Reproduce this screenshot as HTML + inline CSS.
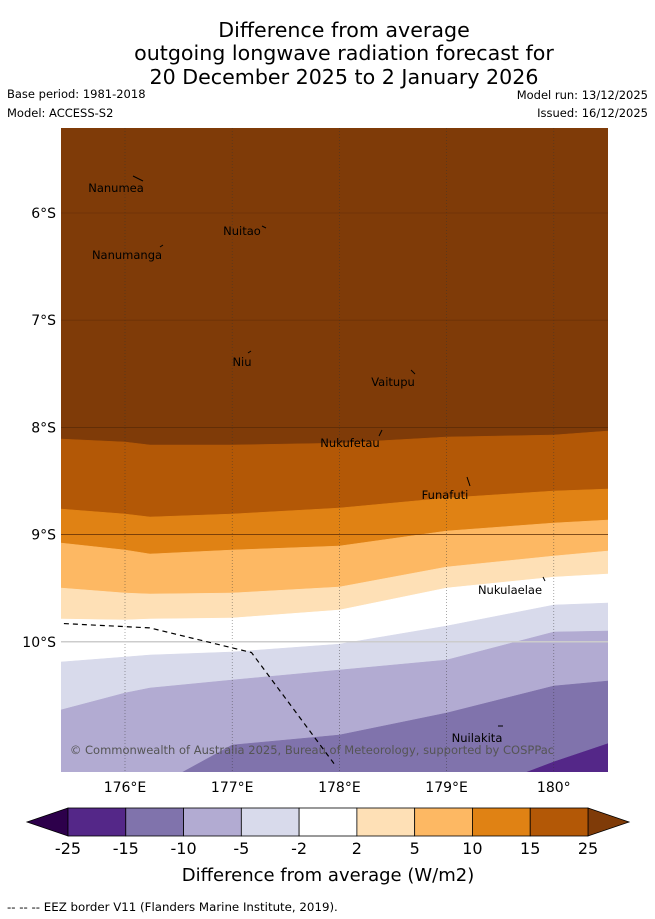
<!DOCTYPE html>
<html><head><meta charset="utf-8"><style>
body{margin:0;background:#fff;width:655px;height:919px;overflow:hidden;font-family:"DejaVu Sans","Liberation Sans",sans-serif}
svg{position:absolute;left:0;top:0}
</style></head><body>
<svg width="655" height="919" font-family="DejaVu Sans, Liberation Sans, sans-serif">
<g font-size="20.6" text-anchor="middle" fill="#000">
<text x="344" y="37">Difference from average</text>
<text x="344" y="60">outgoing longwave radiation forecast for</text>
<text x="344" y="84">20 December 2025 to 2 January 2026</text>
</g>
<text x="7" y="98" font-size="11.5">Base period: 1981-2018</text>
<text x="7" y="117" font-size="11.5">Model: ACCESS-S2</text>
<text x="648" y="99" font-size="11.5" text-anchor="end">Model run: 13/12/2025</text>
<text x="648" y="117" font-size="11.5" text-anchor="end">Issued: 16/12/2025</text>
<defs><clipPath id="mc"><rect x="61" y="128" width="547" height="644"/></clipPath></defs>
<g id="map" clip-path="url(#mc)"></g>
<g id="axes"></g>
<g id="cbar"></g>
<text x="328" y="881" font-size="18" text-anchor="middle">Difference from average (W/m2)</text>
<text x="7" y="911" font-size="11.8">--  --  -- EEZ border V11 (Flanders Marine Institute, 2019).</text>
</svg>
<script>
const lons=[175.40,176.0,176.233,177.0,178.0,179.0,180.0,180.506];
const levels=[25,15,10,5,2,-2,-5,-10,-15];
const b25=[8.108,8.136,8.164,8.164,8.146,8.09,8.071,8.034];
const b15=[8.761,8.808,8.836,8.808,8.752,8.659,8.593,8.575];
const b10=[9.078,9.144,9.181,9.144,9.106,8.966,8.892,8.864];
const b5=[9.498,9.545,9.554,9.545,9.489,9.302,9.2,9.153];
const b2=[9.787,9.797,9.787,9.778,9.703,9.498,9.396,9.368];
const bm2=[10.188,10.142,10.123,10.095,10.021,9.853,9.657,9.638];
const bm5=[10.636,10.478,10.431,10.356,10.263,10.17,9.909,9.899];
const bm10=[11.662,11.476,11.382,10.963,10.869,10.664,10.412,10.366];
const bm15=[11.9,11.9,11.9,11.9,11.9,11.5,11.12,10.95];
const colors=["#7f3b08","#b35806","#e08214","#fdb863","#fee0b6","#ffffff","#d8daeb","#b2abd2","#8073ac","#542788","#2d004b"];
const cbTicks=["-25","-15","-10","-5","-2","2","5","10","15","25"];
const lonTicks=[176,177,178,179,180];
const latTicks=[6,7,8,9,10];
const islands=[["Nanumea",116,192,133,176,143,181],["Nuitao",242,235,262,226,266,228],["Nanumanga",127,259,160,247,163,245],["Niu",242,366,248,353,251,351],["Vaitupu",393,386,411,370,415,374],["Nukufetau",350,447,379,436,382,430],["Funafuti",445,499,467,477,470,486],["Nukulaelae",510,594,543,577,545,581],["Nuilakita",477,742,498,726,503,726]];
const NS="http://www.w3.org/2000/svg";
const X=l=>125+(l-176)*107.2, Y=la=>213+(la-6)*107.2;
function mk(t,a,p){const e=document.createElementNS(NS,t);for(const k in a)e.setAttribute(k,a[k]);p.appendChild(e);return e;}
const map=document.getElementById('map');
let bg=mk('rect',{x:61,y:128,width:547,height:644,fill:colors[0]},map);


const bounds=[b25,b15,b10,b5,b2,bm2,bm5,bm10,bm15];
bounds.forEach((b,i)=>{
 let d=lons.map((l,j)=>(j?'L':'M')+X(l).toFixed(1)+','+Y(b[j]).toFixed(1)).join('')+'L'+X(lons[lons.length-1])+',900L'+X(lons[0])+',900Z';
 const p=mk('path',{d:d,fill:colors[i+1],stroke:colors[i+1],'stroke-width':0.5},map);
 
 
});
lonTicks.forEach(l=>{const e=mk('line',{x1:X(l),x2:X(l),y1:128,y2:772,stroke:'#333','stroke-width':0.6,'stroke-dasharray':'1,2','stroke-opacity':0.7},map);
 });
latTicks.forEach(l=>{const e=mk('line',{x1:61,x2:608,y1:Y(l),y2:Y(l),stroke:l==10?'#ccc':'#5a2a05','stroke-width':l==10?1.5:0.8,'stroke-opacity':l<8?0.5:1},map);
 });
const eez=mk('polyline',{points:[[175.43,9.83],[176.23,9.87],[177.18,10.1],[177.96,11.15]].map(p=>X(p[0])+','+Y(p[1])).join(' '),fill:'none',stroke:'#000','stroke-width':1.2,'stroke-dasharray':'5,4'},map);

islands.forEach(s=>{
 const t=mk('text',{x:s[1],y:s[2],'font-size':11.5,'text-anchor':'middle'},map);t.textContent=s[0];
 
 const m=mk('line',{x1:s[3],y1:s[4],x2:s[5],y2:s[6],stroke:'#000','stroke-width':1},map);
 
});
const cp=mk('text',{x:312,y:754,'font-size':11.5,'text-anchor':'middle',fill:'#555'},map);cp.textContent='© Commonwealth of Australia 2025, Bureau of Meteorology, supported by COSPPac';

const ax=document.getElementById('axes');
lonTicks.forEach(l=>{const t=mk('text',{x:X(l),y:792,'font-size':14,'text-anchor':'middle'},ax);t.textContent=(l==180?'180':l)+'°'+(l==180?'':'E');
 });
latTicks.forEach(l=>{const t=mk('text',{x:56,y:Y(l)+5,'font-size':14,'text-anchor':'end'},ax);t.textContent=l+'°S';
 });
const cb=document.getElementById('cbar');
const x0=68,y0=808,h=28,W=520,n=cbTicks.length-1,w=W/n;
let lt=mk('polygon',{points:`${x0},${y0} 27,${y0+h/2} ${x0},${y0+h}`,fill:colors[10],stroke:'#000','stroke-width':0.8},cb);

let rt=mk('polygon',{points:`${x0+W},${y0} 629,${y0+h/2} ${x0+W},${y0+h}`,fill:colors[0],stroke:'#000','stroke-width':0.8},cb);

for(let i=0;i<n;i++){const r=mk('rect',{x:x0+i*w,y:y0,width:w,height:h,fill:colors[9-i],stroke:'#000','stroke-width':0.8},cb);
 }
cbTicks.forEach((s,i)=>{const t=mk('text',{x:x0+i*w,y:854,'font-size':16,'text-anchor':'middle'},cb);t.textContent=s;
 });
</script>
</body></html>
